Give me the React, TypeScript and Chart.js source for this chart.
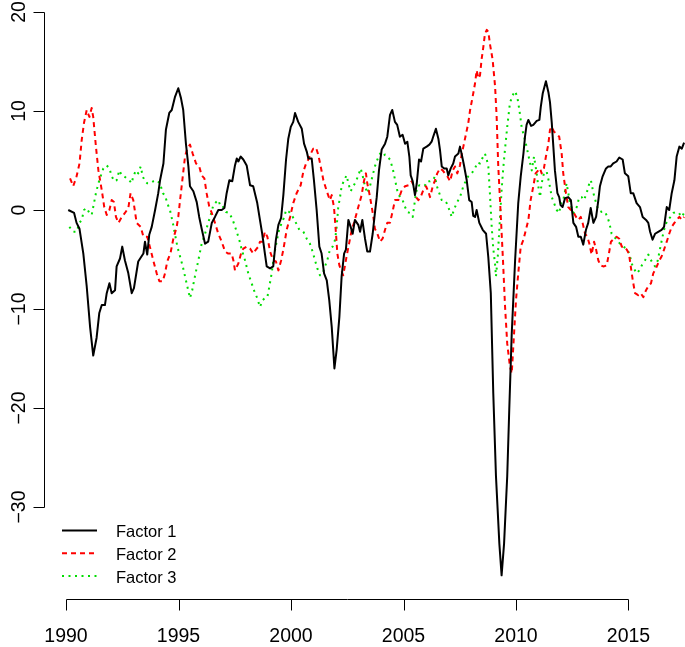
import React, { useEffect, useRef } from 'react';
import { Chart, registerables } from 'chart.js';

Chart.register(...registerables);

// ---- Data ----
const f1Years = [
  1990.1, 1990.36, 1990.47, 1990.6, 1990.77, 1990.92, 1991.07, 1991.21, 1991.36, 1991.48,
  1991.59, 1991.73, 1991.81, 1991.93, 1992.03, 1992.18, 1992.25, 1992.4, 1992.5, 1992.62,
  1992.77, 1992.92, 1993.02, 1993.21, 1993.44, 1993.51, 1993.61, 1993.7, 1993.81, 1993.96,
  1994.1, 1994.18, 1994.33, 1994.44, 1994.59, 1994.7, 1994.84, 1994.99, 1995.11, 1995.21,
  1995.33, 1995.44, 1995.51, 1995.66, 1995.81, 1995.92, 1996.03, 1996.18, 1996.32, 1996.48,
  1996.62, 1996.77, 1996.92, 1997.04, 1997.14, 1997.26, 1997.39, 1997.51, 1997.59, 1997.66,
  1997.76, 1997.88, 1998.03, 1998.18, 1998.32, 1998.5, 1998.62, 1998.72, 1998.84, 1998.92,
  1999.07, 1999.21, 1999.33, 1999.44, 1999.56, 1999.66, 1999.78, 1999.88, 1999.99, 2000.1,
  2000.18, 2000.32, 2000.48, 2000.58, 2000.7, 2000.77, 2000.92, 2001.02, 2001.14, 2001.26,
  2001.36, 2001.47, 2001.59, 2001.7, 2001.81, 2001.93, 2002.03, 2002.15, 2002.25, 2002.36,
  2002.44, 2002.55, 2002.65, 2002.74, 2002.84, 2002.99, 2003.07, 2003.17, 2003.29, 2003.39,
  2003.51, 2003.63, 2003.73, 2003.81, 2003.91, 2004.03, 2004.18, 2004.28, 2004.4, 2004.5,
  2004.62, 2004.72, 2004.84, 2004.96, 2005.07, 2005.17, 2005.26, 2005.32, 2005.41, 2005.51,
  2005.59, 2005.69, 2005.78, 2005.88, 2006.03, 2006.15, 2006.25, 2006.32, 2006.44, 2006.55,
  2006.62, 2006.7, 2006.81, 2006.92, 2006.99, 2007.1, 2007.21, 2007.29, 2007.44, 2007.51,
  2007.59, 2007.69, 2007.81, 2007.92, 2008.03, 2008.1, 2008.18, 2008.25, 2008.37, 2008.52,
  2008.67, 2008.77, 2008.88, 2008.99, 2009.11, 2009.26, 2009.36, 2009.47, 2009.56, 2009.61,
  2009.7, 2009.81, 2009.96, 2010.1, 2010.21, 2010.33, 2010.4, 2010.47, 2010.55, 2010.67,
  2010.77, 2010.92, 2011.04, 2011.1, 2011.19, 2011.33, 2011.44, 2011.51, 2011.59, 2011.66,
  2011.73, 2011.84, 2011.92, 2011.98, 2012.07, 2012.18, 2012.32, 2012.44, 2012.55, 2012.67,
  2012.77, 2012.88, 2012.99, 2013.11, 2013.21, 2013.32, 2013.44, 2013.56, 2013.66, 2013.73,
  2013.85, 2014.0, 2014.1, 2014.21, 2014.32, 2014.47, 2014.59, 2014.74, 2014.84, 2014.99,
  2015.1, 2015.21, 2015.36, 2015.51, 2015.63, 2015.78, 2015.88, 2015.96, 2016.07, 2016.18,
  2016.32, 2016.47, 2016.58, 2016.7, 2016.81, 2016.92, 2017.04, 2017.14, 2017.26, 2017.37,
  2017.47,
];
const f1Values = [
  0, -0.3, -1.3, -1.9, -4.4, -7.7, -11.8, -14.7, -12.9, -10.4,
  -9.6, -9.6, -8.4, -7.4, -8.4, -8.1, -5.7, -4.9, -3.7, -5.1,
  -6.4, -8.4, -7.9, -5.2, -4.4, -3.2, -4.5, -2.5, -1.7, 0,
  1.7, 3.0, 4.7, 8.1, 9.8, 10.1, 11.4, 12.3, 11.3, 10.1,
  6.7, 4.4, 2.4, 1.9, 0.8, -0.7, -1.9, -3.4, -3.2, -1.3,
  -0.7, 0, 0, 0.2, 1.7, 3.0, 2.9, 4.5, 5.2, 4.9,
  5.4, 5.1, 4.5, 2.5, 2.4, 0.7, -1.0, -2.4, -4.4, -5.7,
  -5.9, -5.7, -3.0, -1.5, -0.8, 1.5, 5.1, 7.2, 8.4, 8.9,
  9.8, 8.9, 8.2, 6.7, 5.9, 5.2, 5.2, 3.0, 0, -3.7,
  -4.4, -6.4, -7.1, -9.1, -11.8, -16.0, -14.1, -10.8, -6.7, -4.4,
  -4.0, -1.0, -1.7, -2.4, -1.0, -1.5, -2.2, -1.0, -2.9, -4.2,
  -4.2, -2.4, -0.3, 1.3, 4.0, 6.1, 6.7, 7.4, 9.6, 10.1,
  8.9, 8.6, 7.4, 7.6, 6.7, 6.9, 5.4, 3.5, 2.9, 1.5,
  2.7, 5.1, 4.9, 6.2, 6.4, 6.6, 6.9, 7.4, 8.2, 7.2,
  6.1, 4.4, 4.2, 4.2, 3.5, 4.2, 4.7, 5.4, 5.7, 6.4,
  5.6, 4.5, 3.0, 1.0, 0.8, -0.6, -0.7, 0, -1.3, -2.0,
  -2.4, -4.8, -8.4, -18.5, -26.9, -33.7, -36.9, -33.7, -29.3, -26.9,
  -20.2, -12.5, -5.1, 0.7, 3.4, 5.7, 7.4, 8.6, 9.1, 8.5,
  8.6, 9.0, 9.1, 10.4, 11.8, 13.0, 11.9, 10.9, 8.8, 6.4,
  4.0, 1.7, 1.3, 0.5, 0.3, 1.2, 1.3, 1.0, -1.3, -1.7,
  -2.7, -2.7, -3.5, -2.0, -1.3, 0.2, -1.3, -0.7, 1.0, 2.4,
  3.4, 4.2, 4.4, 4.4, 4.7, 4.9, 5.3, 5.1, 3.7, 3.4,
  1.7, 1.7, 0.7, 0.3, -0.7, -1.0, -1.3, -2.2, -3.0, -2.4,
  -2.2, -2.0, -1.7, 0.3, 0, 1.7, 3.0, 5.4, 6.4, 6.2,
  6.8,
];

const f2Years = [
  1990.18, 1990.32, 1990.47, 1990.6, 1990.7, 1990.8, 1990.92, 1991.04, 1991.14, 1991.21,
  1991.33, 1991.44, 1991.59, 1991.7, 1991.81, 1991.93, 1992.03, 1992.13, 1992.22, 1992.33,
  1992.48, 1992.62, 1992.77, 1992.87, 1992.99, 1993.14, 1993.32, 1993.44, 1993.61, 1993.76,
  1993.88, 1994.03, 1994.15, 1994.3, 1994.4, 1994.5, 1994.65, 1994.77, 1994.92, 1994.99,
  1995.07, 1995.19, 1995.29, 1995.39, 1995.51, 1995.63, 1995.78, 1995.92, 1996.03, 1996.15,
  1996.25, 1996.37, 1996.48, 1996.62, 1996.77, 1996.92, 1997.07, 1997.21, 1997.36, 1997.44,
  1997.51, 1997.66, 1997.78, 1997.88, 1998.03, 1998.18, 1998.32, 1998.44, 1998.55, 1998.62,
  1998.74, 1998.84, 1998.95, 1999.07, 1999.21, 1999.33, 1999.44, 1999.56, 1999.66, 1999.81,
  1999.96, 2000.1, 2000.25, 2000.43, 2000.55, 2000.67, 2000.77, 2000.88, 2000.99, 2001.11,
  2001.21, 2001.32, 2001.44, 2001.59, 2001.73, 2001.81, 2001.91, 2002.0, 2002.06, 2002.15,
  2002.25, 2002.32, 2002.4, 2002.47, 2002.58, 2002.7, 2002.8, 2002.92, 2003.04, 2003.14,
  2003.24, 2003.33, 2003.39, 2003.48, 2003.59, 2003.66, 2003.73, 2003.84, 2003.96, 2004.07,
  2004.18, 2004.28, 2004.4, 2004.52, 2004.62, 2004.77, 2004.92, 2005.07, 2005.22, 2005.36,
  2005.47, 2005.56, 2005.66, 2005.76, 2005.88, 2006.0, 2006.1, 2006.18, 2006.3, 2006.4,
  2006.5, 2006.62, 2006.74, 2006.84, 2006.95, 2007.07, 2007.19, 2007.29, 2007.39, 2007.51,
  2007.59, 2007.66, 2007.78, 2007.88, 2007.96, 2008.07, 2008.18, 2008.25, 2008.33, 2008.4,
  2008.47, 2008.55, 2008.62, 2008.7, 2008.77, 2008.84, 2008.96, 2009.07, 2009.14, 2009.21,
  2009.3, 2009.42, 2009.51, 2009.61, 2009.73, 2009.81, 2009.88, 2010.0, 2010.1, 2010.21,
  2010.33, 2010.44, 2010.55, 2010.65, 2010.77, 2010.87, 2010.99, 2011.07, 2011.14, 2011.24,
  2011.33, 2011.44, 2011.51, 2011.59, 2011.69, 2011.81, 2011.92, 2012.03, 2012.1, 2012.22,
  2012.32, 2012.44, 2012.55, 2012.67, 2012.77, 2012.88, 2012.96, 2013.07, 2013.17, 2013.26,
  2013.36, 2013.47, 2013.56, 2013.66, 2013.76, 2013.88, 2014.03, 2014.13, 2014.22, 2014.36,
  2014.47, 2014.59, 2014.7, 2014.81, 2014.92, 2015.02, 2015.1, 2015.19, 2015.29, 2015.43,
  2015.54, 2015.66, 2015.78, 2015.88, 2016.0, 2016.1, 2016.22, 2016.37, 2016.47, 2016.58,
  2016.7, 2016.81, 2016.92, 2017.04, 2017.14, 2017.26, 2017.37, 2017.47,
];
const f2Values = [
  3.2, 2.4, 3.4, 4.7, 7.1, 8.8, 10.1, 9.4, 10.3, 9.4,
  6.4, 4.0, 2.0, 0.3, -0.5, 0, 1.0, 0.8, -0.7, -1.3,
  -0.7, -0.3, 0.2, 1.7, 1.0, -1.3, -1.7, -2.7, -2.7, -4.0,
  -5.1, -6.4, -7.2, -7.2, -6.4, -5.2, -4.3, -2.9, -1.7, -0.7,
  1.0, 3.4, 5.4, 6.2, 6.6, 5.7, 4.7, 4.4, 3.5, 3.2,
  1.7, 0.3, -0.3, -1.3, -2.4, -3.2, -4.2, -4.4, -4.4, -5.1,
  -6.1, -5.4, -4.4, -3.9, -3.7, -3.9, -4.4, -4.0, -3.7, -3.2,
  -3.2, -2.2, -2.7, -4.2, -5.1, -5.2, -6.1, -5.1, -4.0, -2.0,
  -0.7, 0.7, 1.7, 2.5, 3.9, 4.7, 5.1, 5.7, 6.2, 6.3,
  5.6, 4.4, 3.0, 1.9, 1.0, 1.5, 0.3, -2.4, -4.4, -5.6,
  -6.2, -6.6, -5.6, -4.7, -3.4, -2.0, -1.3, -0.3, 0.7, 1.5,
  2.9, 3.7, 2.7, 1.7, 0.3, -0.7, -1.9, -2.4, -3.2, -2.9,
  -2.0, -1.3, -1.3, -0.1, 1.0, 1.0, 2.0, 2.4, 2.5, 2.9,
  2.4, 1.3, 1.0, 1.3, 2.0, 2.4, 1.9, 1.3, 2.4, 3.0,
  3.7, 4.2, 4.0, 3.7, 3.4, 2.9, 4.0, 4.4, 3.7, 4.5,
  5.7, 6.4, 7.7, 8.8, 10.1, 11.4, 12.8, 14.1, 13.3, 13.6,
  15.2, 16.5, 17.8, 18.2, 18.0, 16.8, 15.2, 12.5, 9.4, 4.5,
  0.5, -5.0, -9.6, -13.5, -15.8, -16.5, -13.8, -9.1, -6.4, -3.7,
  -3.0, -2.0, -1.0, 1.0, 2.4, 3.7, 4.0, 4.2, 3.7, 4.2,
  5.4, 6.7, 8.1, 8.4, 7.9, 7.7, 7.4, 5.7, 3.7, 1.7,
  0.3, 0, -0.2, -0.7, -1.0, -0.7, -1.3, -2.4, -2.7, -3.4,
  -4.5, -3.2, -4.0, -5.1, -5.6, -5.7, -5.6, -4.4, -3.2, -2.9,
  -2.7, -2.9, -3.7, -3.7, -4.0, -4.4, -5.7, -7.1, -8.4, -8.6,
  -8.4, -8.8, -8.1, -7.7, -7.4, -6.4, -5.9, -5.1, -4.7, -4.0,
  -3.2, -2.4, -1.7, -1.3, -1.0, -0.7, -1.0, -0.7,
];

const f3Years = [
  1990.15, 1990.32, 1990.47, 1990.6, 1990.7, 1990.8, 1990.92, 1991.04, 1991.14, 1991.21,
  1991.33, 1991.44, 1991.54, 1991.66, 1991.81, 1991.93, 1992.03, 1992.15, 1992.25, 1992.37,
  1992.48, 1992.58, 1992.7, 1992.81, 1992.92, 1992.99, 1993.11, 1993.21, 1993.32, 1993.41,
  1993.51, 1993.61, 1993.73, 1993.88, 1994.03, 1994.18, 1994.3, 1994.4, 1994.5, 1994.62,
  1994.74, 1994.84, 1994.95, 1995.07, 1995.19, 1995.29, 1995.39, 1995.51, 1995.61, 1995.73,
  1995.88, 1996.03, 1996.18, 1996.32, 1996.43, 1996.55, 1996.67, 1996.77, 1996.88, 1996.99,
  1997.11, 1997.26, 1997.41, 1997.56, 1997.7, 1997.81, 1997.96, 1998.1, 1998.25, 1998.4,
  1998.5, 1998.62, 1998.74, 1998.84, 1998.95, 1999.04, 1999.14, 1999.24, 1999.36, 1999.48,
  1999.59, 1999.7, 1999.78, 1999.92, 2000.08, 2000.22, 2000.37, 2000.55, 2000.7, 2000.84,
  2000.96, 2001.07, 2001.17, 2001.29, 2001.41, 2001.51, 2001.61, 2001.73, 2001.85, 2001.96,
  2002.03, 2002.1, 2002.18, 2002.25, 2002.36, 2002.47, 2002.55, 2002.65, 2002.77, 2002.89,
  2002.99, 2003.1, 2003.19, 2003.29, 2003.39, 2003.51, 2003.63, 2003.73, 2003.84, 2003.96,
  2004.07, 2004.18, 2004.28, 2004.4, 2004.52, 2004.62, 2004.72, 2004.84, 2004.96, 2005.07,
  2005.17, 2005.29, 2005.41, 2005.51, 2005.61, 2005.73, 2005.85, 2005.96, 2006.06, 2006.18,
  2006.3, 2006.4, 2006.47, 2006.59, 2006.7, 2006.8, 2006.92, 2007.04, 2007.14, 2007.24,
  2007.36, 2007.51, 2007.66, 2007.78, 2007.88, 2008.03, 2008.18, 2008.28, 2008.4, 2008.52,
  2008.62, 2008.7, 2008.77, 2008.84, 2008.92, 2008.99, 2009.07, 2009.11, 2009.19, 2009.29,
  2009.36, 2009.44, 2009.51, 2009.61, 2009.73, 2009.85, 2009.96, 2010.06, 2010.15, 2010.25,
  2010.36, 2010.47, 2010.59, 2010.7, 2010.8, 2010.92, 2010.99, 2011.07, 2011.14, 2011.24,
  2011.36, 2011.48, 2011.59, 2011.69, 2011.81, 2011.92, 2012.0, 2012.1, 2012.25, 2012.4,
  2012.55, 2012.7, 2012.81, 2012.92, 2013.02, 2013.14, 2013.26, 2013.33, 2013.44, 2013.56,
  2013.66, 2013.81, 2013.96, 2014.06, 2014.15, 2014.25, 2014.36, 2014.47, 2014.62, 2014.77,
  2014.92, 2015.04, 2015.14, 2015.24, 2015.36, 2015.48, 2015.59, 2015.73, 2015.88, 2016.03,
  2016.18, 2016.3, 2016.42, 2016.54, 2016.64, 2016.75, 2016.87, 2016.99, 2017.1, 2017.24,
  2017.37, 2017.47,
];
const f3Values = [
  -1.7, -2.2, -2.2, -1.3, -1.0, 0, 0.2, -0.3, -0.5, 0.3,
  1.7, 2.7, 3.4, 4.2, 4.5, 4.2, 3.4, 2.9, 3.0, 4.0,
  3.5, 3.4, 3.2, 3.0, 2.7, 3.4, 4.0, 3.7, 4.4, 3.4,
  2.9, 2.7, 2.7, 2.9, 3.0, 2.7, 1.7, 1.5, 0.7, 0,
  -1.2, -2.4, -3.7, -4.7, -5.7, -6.7, -7.7, -8.9, -8.1, -6.7,
  -5.1, -3.4, -2.4, -1.3, -0.5, 0.5, 0.8, 1.0, 0.3, 0.3,
  -0.2, -0.3, -1.0, -2.0, -3.0, -4.0, -5.1, -6.4, -7.4, -8.4,
  -8.9, -9.8, -9.1, -8.9, -8.8, -7.7, -6.4, -4.7, -3.2, -1.9,
  -1.3, -0.7, 0, -0.2, -0.7, -1.3, -2.0, -2.2, -2.9, -3.4,
  -4.2, -5.1, -5.9, -6.6, -6.4, -5.7, -5.1, -4.0, -3.7, -3.0,
  -1.7, 0.3, 1.3, 2.4, 3.0, 3.5, 2.7, 1.9, 2.4, 2.9,
  3.5, 4.2, 3.4, 2.4, 1.7, 2.4, 3.5, 4.4, 5.1, 5.7,
  5.4, 5.6, 5.4, 5.1, 4.2, 3.1, 2.0, 1.3, 1.0, 0.3,
  -0.2, -0.3, -0.7, 1.0, 2.4, 2.5, 2.4, 2.5, 2.9, 2.9,
  3.0, 3.4, 2.5, 1.7, 1.0, 1.0, 0.7, 0, -0.7, 0,
  0.7, 1.3, 2.4, 3.0, 3.4, 3.7, 4.2, 4.8, 4.7, 5.3,
  5.7, 5.1, 4.4, 1.7, -1.7, -3.9, -5.5, -6.7, -4.7, -0.7,
  2.0, 4.4, 6.1, 8.4, 10.8, 11.6, 12.0, 11.4, 10.1, 8.4,
  7.4, 6.4, 5.1, 4.0, 5.4, 3.7, 2.4, 1.3, 2.7, 3.7,
  3.9, 2.7, 1.3, 0.7, 0, -0.3, 0.7, 1.0, 2.7, 0.7,
  -0.3, 0.3, 1.3, 1.3, 1.0, 1.7, 2.7, 3.0, 1.7, 0.7,
  0, -0.2, -0.2, -0.7, -1.3, -2.4, -2.7, -3.0, -3.4, -3.7,
  -3.9, -4.4, -5.4, -5.9, -6.4, -6.1, -5.6, -5.1, -4.5, -5.2,
  -5.7, -5.1, -3.7, -2.4, -1.5, -1.0, -0.7, -0.3, -0.2, -0.3,
  -0.7, -0.3,
];

const seriesLabels = ['Factor 1', 'Factor 2', 'Factor 3'];
const xTicks = [1990, 1995, 2000, 2005, 2010, 2015];
const yTicks = [-30, -20, -10, 0, 10, 20];

// ---- Layout / style ----
const W = 685;
const H = 647;
const FONT = '"Liberation Sans", Arial, Helvetica, sans-serif';
const COLORS = ['#000000', '#ff0000', '#00dd00'];
const DASHES = [[], [5, 4], [2, 4.5]];
const WIDTHS = [2, 2, 2];

const fmt = (v: number) => String(v).replace('-', '\u2212');

const rStylePlugin = {
  id: 'rStyle',
  afterDraw(chart: any) {
    const { ctx, chartArea, scales } = chart;
    const xs = scales.x;
    const ys = scales.y;
    ctx.save();
    ctx.strokeStyle = '#000';
    ctx.fillStyle = '#000';
    ctx.lineWidth = 1;
    ctx.setLineDash([]);

    // x axis
    const yA = Math.round(chartArea.bottom) + 0.5;
    ctx.beginPath();
    ctx.moveTo(Math.round(xs.getPixelForValue(xTicks[0])) + 0.5, yA);
    ctx.lineTo(Math.round(xs.getPixelForValue(xTicks[xTicks.length - 1])) + 0.5, yA);
    xTicks.forEach((t) => {
      const px = Math.round(xs.getPixelForValue(t)) + 0.5;
      ctx.moveTo(px, yA);
      ctx.lineTo(px, yA + 11);
    });
    ctx.stroke();
    ctx.font = `19.5px ${FONT}`;
    ctx.textAlign = 'center';
    ctx.textBaseline = 'alphabetic';
    xTicks.forEach((t) => {
      ctx.fillText(String(t), xs.getPixelForValue(t), yA + 42.5);
    });

    // y axis
    const xA = Math.round(chartArea.left) + 0.5;
    ctx.beginPath();
    ctx.moveTo(xA, Math.round(ys.getPixelForValue(yTicks[0])) + 0.5);
    ctx.lineTo(xA, Math.round(ys.getPixelForValue(yTicks[yTicks.length - 1])) + 0.5);
    yTicks.forEach((t) => {
      const py = Math.round(ys.getPixelForValue(t)) + 0.5;
      ctx.moveTo(xA, py);
      ctx.lineTo(xA - 11, py);
    });
    ctx.stroke();
    yTicks.forEach((t) => {
      ctx.save();
      ctx.translate(xA - 19.5, ys.getPixelForValue(t));
      ctx.rotate(-Math.PI / 2);
      ctx.textAlign = 'center';
      ctx.fillText(fmt(t), 0, 0);
      ctx.restore();
    });

    // legend
    ctx.font = `16.5px ${FONT}`;
    ctx.textAlign = 'left';
    const lx0 = 62;
    const lx1 = 97;
    const tx = 116;
    chart.data.datasets.forEach((ds: any, i: number) => {
      const cy = 530.5 + i * 22.8;
      ctx.beginPath();
      ctx.strokeStyle = ds.borderColor;
      ctx.lineWidth = ds.borderWidth;
      ctx.setLineDash(ds.borderDash || []);
      ctx.moveTo(lx0, cy);
      ctx.lineTo(lx1, cy);
      ctx.stroke();
      ctx.fillStyle = '#000';
      ctx.fillText(ds.label, tx, cy + 6.8);
    });
    ctx.restore();
  },
};

export default function App() {
  const ref = useRef<HTMLCanvasElement | null>(null);

  useEffect(() => {
    if (!ref.current) return;
    const series = [
      [f1Years, f1Values],
      [f2Years, f2Values],
      [f3Years, f3Values],
    ];
    const pxPerYear = 22.5;
    const pxPerUnit = 9.9;
    const chart = new Chart(ref.current, {
      type: 'line',
      data: {
        datasets: series.map(([xs, ys], i) => ({
          label: seriesLabels[i],
          data: xs.map((x, j) => ({ x, y: ys[j] })),
          borderColor: COLORS[i],
          borderWidth: WIDTHS[i],
          borderDash: DASHES[i],
          borderCapStyle: 'butt',
          borderJoinStyle: 'round',
          pointRadius: 0,
          tension: 0,
          fill: false,
        })),
      },
      options: {
        responsive: false,
        animation: false,
        devicePixelRatio: 1,
        layout: { padding: { left: 44, right: 0, top: 6, bottom: 48 } },
        plugins: { legend: { display: false }, tooltip: { enabled: false } },
        scales: {
          x: {
            type: 'linear',
            display: false,
            min: 1990 - 22 / pxPerYear,
            max: 1990 + 619 / pxPerYear,
          },
          y: {
            type: 'linear',
            display: false,
            min: -389 / pxPerUnit,
            max: 204 / pxPerUnit,
          },
        },
      },
      plugins: [rStylePlugin],
    } as any);
    return () => chart.destroy();
  }, []);

  return (
    <div style={{ position: 'fixed', left: 0, top: 0, width: W, height: H, background: '#fff' }}>
      <canvas ref={ref} width={W} height={H} style={{ width: W, height: H, display: 'block' }} />
    </div>
  );
}
